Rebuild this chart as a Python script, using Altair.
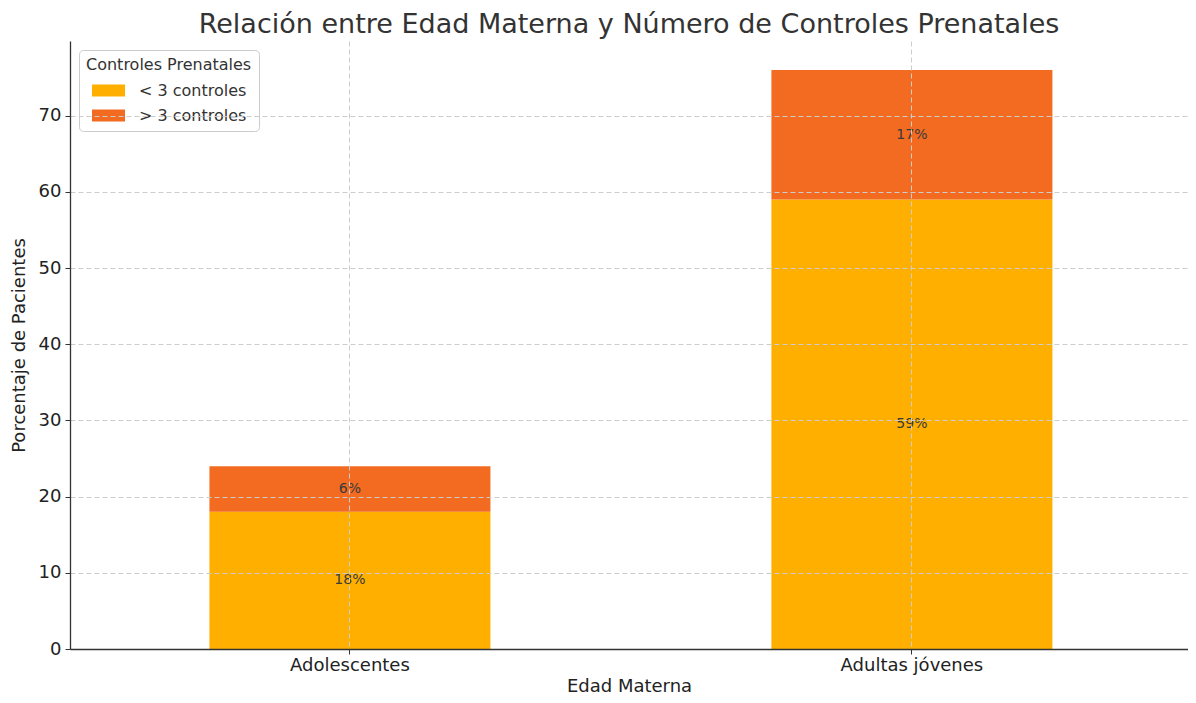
import altair as alt
import pandas as pd

categories = ["Adolescentes", "Adultas jóvenes"]
series_names = ["< 3 controles", "> 3 controles"]
lt3_values = [18, 59]
gt3_values = [6, 17]
colors = ["#FFAF00", "#F26B21"]
y_ticks = [0, 10, 20, 30, 40, 50, 60, 70]

rows = []
for i, c in enumerate(categories):
    rows.append({"Edad": c, "Grupo": series_names[0], "ord": 0, "valor": lt3_values[i]})
    rows.append({"Edad": c, "Grupo": series_names[1], "ord": 1, "valor": gt3_values[i]})
df = pd.DataFrame(rows)

FONT = "DejaVu Sans"

x_enc = alt.X(
    "Edad:N",
    sort=categories,
    scale=alt.Scale(paddingInner=0.5, paddingOuter=0.2447, align=0.507),
    axis=alt.Axis(
        title="Edad Materna", labelAngle=0, labelFontSize=18, titleFontSize=18,
        titleFontWeight="normal",
        labelColor="#222222", titleColor="#222222", tickSize=5, tickColor="#333333",
        domainColor="#333333", domainWidth=1.3, grid=True, gridDash=[5, 3],
        gridColor="#cccccc", labelPadding=2, titlePadding=3, zindex=1,
    ),
)

y_scale = alt.Scale(domain=[0, 79.8], nice=False)

bars = alt.Chart(df).mark_bar(size=281).encode(
    x=x_enc,
    y=alt.Y(
        "valor:Q", stack="zero", scale=y_scale,
        axis=alt.Axis(
            title="Porcentaje de Pacientes", values=y_ticks, labelFontSize=18, titleFontSize=18,
            titleFontWeight="normal",
            labelColor="#222222", titleColor="#222222", tickSize=5, tickColor="#333333",
            domainColor="#333333", domainWidth=1.3, grid=True, gridDash=[5, 3],
            gridColor="#cccccc", labelPadding=4, titlePadding=10, zindex=1,
        ),
    ),
    color=alt.Color(
        "Grupo:N",
        scale=alt.Scale(domain=series_names, range=colors),
        legend=alt.Legend(
            title="Controles Prenatales", orient="none", legendX=9, legendY=9,
            titleFontSize=16, labelFontSize=16, titleColor="#333333", labelColor="#333333",
            titleFontWeight="normal", symbolType="M-1,-0.36H1V0.36H-1Z", symbolSize=1089,
            symbolStrokeWidth=0, symbolOpacity=1, rowPadding=0, labelOffset=14,
            symbolOffset=6,
            strokeColor="#cccccc", fillColor="white", cornerRadius=4, padding=7,
            titlePadding=1,
        ),
    ),
    order=alt.Order("ord:Q", sort="ascending"),
)

labels = alt.Chart(df).transform_stack(
    stack="valor", groupby=["Edad"], as_=["y0", "y1"], sort=[alt.SortField("ord", order="ascending")]
).transform_calculate(
    mid="(datum.y0 + datum.y1) / 2",
    txt="format(datum.valor, 'd') + '%'",
).mark_text(fontSize=14, color="#3a3a3a", font=FONT, baseline="middle").encode(
    x=alt.X("Edad:N", sort=categories),
    y=alt.Y("mid:Q", scale=y_scale),
    text="txt:N",
)

chart = alt.layer(bars, labels).properties(
    width=1118,
    height=608,
    padding={"left": 62, "top": 33, "right": 0, "bottom": 46},
    autosize=alt.AutoSizeParams(type="none"),
    title=alt.TitleParams(
        "Relación entre Edad Materna y Número de Controles Prenatales",
        fontSize=27, font=FONT, fontWeight="normal", color="#333333", anchor="middle", offset=2,
    ),
).configure(font=FONT, background="white").configure_view(stroke=None)

chart.save("out.html", embed_options={"renderer": "svg", "actions": False})
